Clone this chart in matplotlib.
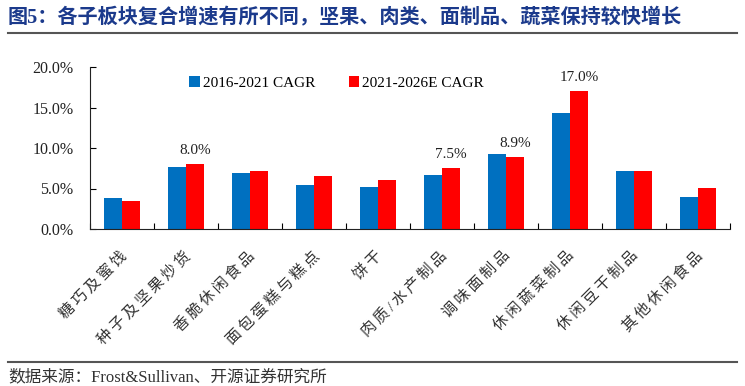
import matplotlib.pyplot as plt
from matplotlib.transforms import offset_copy
from matplotlib.lines import Line2D
import numpy as np

plt.rcParams['font.family'] = ['Liberation Serif', 'Noto Sans CJK SC']

categories = ["糖巧及蜜饯", "种子及坚果炒货", "香脆休闲食品", "面包蛋糕与糕点", "饼干",
              "肉质/水产制品", "调味面制品", "休闲蔬菜制品", "休闲豆干制品", "其他休闲食品"]
cagr_2016_2021 = [3.8, 7.7, 6.9, 5.4, 5.2, 6.7, 9.3, 14.3, 7.2, 3.9]
cagr_2021_2026 = [3.5, 8.0, 7.2, 6.5, 6.0, 7.5, 8.9, 17.0, 7.1, 5.1]
labelled = {1: "8.0%", 5: "7.5%", 6: "8.9%", 7: "17.0%"}

blue = "#0070C0"
red = "#FF0000"

fig = plt.figure(figsize=(7.45, 3.86), dpi=100)
ax = fig.add_axes([90/745, 1-229/386, 640/745, 162/386])

x = np.arange(len(categories))
w = 0.28
ax.bar(x - w/2, cagr_2016_2021, w, color=blue, label="2016-2021 CAGR")
ax.bar(x + w/2, cagr_2021_2026, w, color=red, label="2021-2026E CAGR")

for i, txt in labelled.items():
    ax.annotate(txt, (x[i] + w/2, cagr_2021_2026[i]), xytext=(0, 5), textcoords="offset points",
                ha="center", va="bottom", fontsize=11, color="#222222")

ax.set_xlim(-0.5, len(categories) - 0.5)
ax.set_ylim(0, 20)
ax.set_yticks([0, 5, 10, 15, 20])
ax.set_yticklabels([f"{v:.1f}%" for v in [0, 5, 10, 15, 20]], fontsize=11.5, color="#222222")
ax.tick_params(axis="y", direction="in", length=4, pad=12)
ax.set_xticks(np.arange(-0.5, len(categories)), labels=[])
ax.tick_params(axis="x", direction="in", length=4)
for s in ["top", "right"]:
    ax.spines[s].set_visible(False)
for s in ["left", "bottom"]:
    ax.spines[s].set_color("#222222")

# rotated category labels, a little letter spacing like the original
trans = offset_copy(ax.get_xaxis_transform(), fig=fig, x=-3, y=-19, units="dots")
for i, c in enumerate(categories):
    ax.text(x[i], 0, "\u2009".join(c), transform=trans, rotation=45, rotation_mode="anchor",
            ha="right", va="top", fontsize=11, color="#333333",
            family=['Liberation Serif', 'Noto Sans CJK SC', 'DejaVu Sans'])

ax.legend(loc="center left", bbox_to_anchor=(0.145, 0.9), ncol=2, frameon=False,
          fontsize=11, handlelength=0.7, handleheight=0.7, handletextpad=0.2,
          columnspacing=2.2, borderaxespad=0)

fig.text(8/745, 1-18/386, "图5：各子板块复合增速有所不同，坚果、肉类、面制品、蔬菜保持较快增长",
         fontsize=14.5, fontweight="bold", color="#1B3A8C", va="center", ha="left")
fig.add_artist(Line2D([8/745, 737/745], [1-33/386, 1-33/386], color="#555555", lw=1.5))
fig.add_artist(Line2D([8/745, 737/745], [1-362/386, 1-362/386], color="#555555", lw=1.5))
fig.text(8/745, 1-377/386, "数据来源：Frost&Sullivan、开源证券研究所", fontsize=12,
         color="#333333", va="center", ha="left")

fig.savefig("out.png", dpi=100)
